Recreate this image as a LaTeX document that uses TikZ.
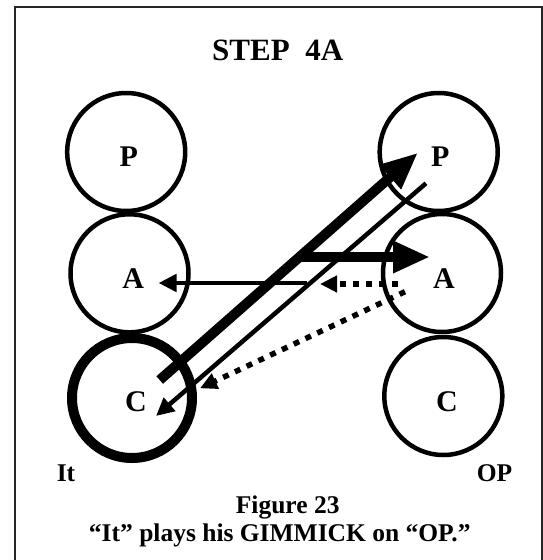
\documentclass[tikz,border=0pt]{standalone}
\usepackage{fontspec}
\setmainfont{Liberation Serif}
\usetikzlibrary{arrows.meta}
\begin{document}
\begin{tikzpicture}[x=1pt,y=-1pt,
  ring/.style={circle,draw,line width=4.5pt,minimum size=118pt,inner sep=0pt},
  thickring/.style={ring,line width=10pt,minimum size=120pt},
  letter/.style={font=\fontsize{30}{30}\selectfont\bfseries,anchor=base,inner sep=0pt},
  lab/.style={font=\fontsize{25.5}{28}\selectfont\bfseries,anchor=base,inner sep=0pt},
  ttl/.style={font=\fontsize{31}{33}\selectfont\bfseries,anchor=base,inner sep=0pt},
  thickarrow/.style={line width=10pt,-{Triangle[length=37pt,width=30pt]}},
  thinarrow/.style={line width=4.5pt,-{Triangle[length=18pt,width=17pt]}},
  dotarrow/.style={line width=5.5pt,dash pattern=on 6pt off 7pt,-{Triangle[length=17pt,width=16pt]}}]
\useasboundingbox (0,0) rectangle (543,560);
% frame
\draw[line width=2pt,draw=black!85] (15.3,575) -- (15.3,7.3) -- (541.5,7.3) -- (541.5,575);
% title
\node[ttl] (title) at (277.7,60.7) {STEP\ \ 4A};
% circles
\node[ring] (lP) at (126.2,152) {};
\node[ring] (lA) at (129.5,273.3) {};
\node[thickring] (lC) at (132,398) {};
\node[ring] (rP) at (438.7,152) {};
\node[ring] (rA) at (442,273) {};
\node[ring] (rC) at (443.3,396) {};
% letters
\node[letter] (lPt) at (128.7,166.7) {P};
\node[letter] (lAt) at (133.3,288.5) {A};
\node[letter] (lCt) at (136,411.5) {C};
\node[letter] (rPt) at (440.3,166.7) {P};
\node[letter] (rAt) at (444,288.5) {A};
\node[letter] (rCt) at (447,411.5) {C};
% arrow end points
\coordinate (d1s) at (159.7,380);
\coordinate (d1e) at (418,152.7);
\coordinate (h1s) at (297,257);
\coordinate (h1e) at (430,257);
\coordinate (d2s) at (426,183.3);
\coordinate (d2e) at (156,416);
\coordinate (h2s) at (306.7,283);
\coordinate (h2e) at (158.5,283);
\coordinate (h3s) at (398,284);
\coordinate (h3e) at (320,284);
\coordinate (d3s) at (405,291.7);
\coordinate (d3e) at (200,388.3);
% arrows
\draw[thinarrow] (d2s) -- (d2e);
\draw[thinarrow] (h2s) -- (h2e);
\draw[dotarrow] (h3s) -- (h3e);
\draw[dotarrow] (d3s) -- (d3e);
\draw[thickarrow] (d1s) -- (d1e);
\draw[thickarrow] (h1s) -- (h1e);
% labels
\node[lab] (it) at (66,481.7) {It};
\node[lab] (op) at (494.5,481.7) {OP};
\node[lab] (fig) at (287.7,513.3) {Figure 23};
\node[lab] (cap) at (279.8,541.7) {“It” plays his GIMMICK on “OP.”};
\end{tikzpicture}
\end{document}
